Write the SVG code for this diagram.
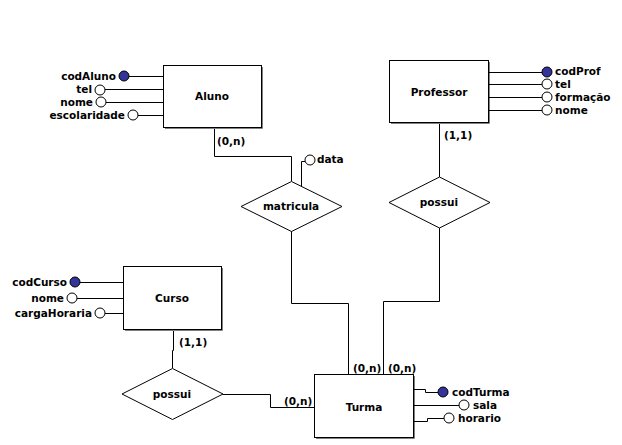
<svg xmlns="http://www.w3.org/2000/svg" width="622" height="445" viewBox="0 0 622 445">
<style>
text{font-family:"DejaVu Sans","Verdana",sans-serif;font-weight:bold;font-size:10.5px;fill:#000}
.c{text-anchor:middle}
.r{text-anchor:end}
.box{fill:#fff;stroke:#000;stroke-width:1}
.sh{fill:none;stroke:#808080;stroke-width:1}
.ln{fill:none;stroke:#000;stroke-width:1}
.dia{fill:#fff;stroke:#000;stroke-width:1}
.at{fill:#fff;stroke:#000;stroke-width:1}
.pk{fill:#333399;stroke:#000;stroke-width:1}
</style>
<rect width="622" height="445" fill="#fff"/>
<g id="connectors">
<polyline class="ln" points="214.5,127 214.5,156.5 291.5,156.5 291.5,181"/>
<polyline class="ln" points="301.5,186 301.5,161.5 305,161.5"/>
<polyline class="ln" points="291.5,231 291.5,303.5 348.5,303.5 348.5,374"/>
<polyline class="ln" points="439.5,122 439.5,177"/>
<polyline class="ln" points="439.5,228 439.5,301.5 383.5,301.5 383.5,374"/>
<polyline class="ln" points="173.5,329 173.5,350.5 172.5,350.5 172.5,368"/>
<polyline class="ln" points="223,394.5 270.5,394.5 270.5,407.5 314,407.5"/>
<text x="217" y="145">(0,n)</text>
<text x="444" y="139">(1,1)</text>
<text x="179" y="346">(1,1)</text>
<text x="284" y="405">(0,n)</text>
<text x="353" y="372">(0,n)</text>
<text x="388" y="372">(0,n)</text>
</g>
<g id="aluno">
<polyline class="sh" points="165,128.5 262.5,128.5 262.5,67"/>
<rect class="box" x="163.5" y="65.5" width="98" height="62"/>
<text class="c" x="212" y="100">Aluno</text>
<line class="ln" x1="129" y1="76.5" x2="163" y2="76.5"/>
<circle class="pk" cx="124" cy="76" r="5"/>
<text class="r" x="116" y="80">codAluno</text>
<line class="ln" x1="105" y1="89.5" x2="163" y2="89.5"/>
<circle class="at" cx="100" cy="90" r="5"/>
<text class="r" x="92" y="93">tel</text>
<line class="ln" x1="106" y1="102.5" x2="163" y2="102.5"/>
<circle class="at" cx="101" cy="102" r="5"/>
<text class="r" x="93" y="106">nome</text>
<line class="ln" x1="138" y1="115.5" x2="163" y2="115.5"/>
<circle class="at" cx="133" cy="115" r="5"/>
<text class="r" x="125" y="119">escolaridade</text>
</g>
<g id="professor">
<polyline class="sh" points="391,123.5 489.5,123.5 489.5,62"/>
<rect class="box" x="389.5" y="60.5" width="99" height="62"/>
<text class="c" x="439" y="96">Professor</text>
<line class="ln" x1="489" y1="72.5" x2="542" y2="72.5"/>
<circle class="pk" cx="547" cy="72" r="5"/>
<text x="555" y="75">codProf</text>
<line class="ln" x1="489" y1="84.5" x2="542" y2="84.5"/>
<circle class="at" cx="547" cy="84" r="5"/>
<text x="555" y="88">tel</text>
<line class="ln" x1="489" y1="97.5" x2="542" y2="97.5"/>
<circle class="at" cx="547" cy="97" r="5"/>
<text x="555" y="101">formação</text>
<line class="ln" x1="489" y1="110.5" x2="542" y2="110.5"/>
<circle class="at" cx="547" cy="110" r="5"/>
<text x="555" y="114">nome</text>
</g>
<g id="curso">
<polyline class="sh" points="125,330.5 222.5,330.5 222.5,268"/>
<rect class="box" x="123.5" y="266.5" width="98" height="63"/>
<text class="c" x="172" y="302">Curso</text>
<line class="ln" x1="80" y1="282.5" x2="123" y2="282.5"/>
<circle class="pk" cx="75" cy="282" r="5"/>
<text class="r" x="67" y="286">codCurso</text>
<line class="ln" x1="77" y1="298.5" x2="123" y2="298.5"/>
<circle class="at" cx="72" cy="298" r="5"/>
<text class="r" x="64" y="302">nome</text>
<line class="ln" x1="105" y1="313.5" x2="123" y2="313.5"/>
<circle class="at" cx="100" cy="313" r="5"/>
<text class="r" x="92" y="317">cargaHoraria</text>
</g>
<g id="turma">
<polyline class="sh" points="316,438.5 414.5,438.5 414.5,376"/>
<rect class="box" x="314.5" y="374.5" width="99" height="63"/>
<text class="c" x="364" y="411">Turma</text>
<polyline class="ln" points="414,389.5 425.5,389.5 425.5,392.5 438,392.5"/>
<circle class="pk" cx="443" cy="392" r="5"/>
<text x="452" y="396">codTurma</text>
<line class="ln" x1="414" y1="405.5" x2="459" y2="405.5"/>
<circle class="at" cx="464" cy="405" r="5"/>
<text x="473" y="409">sala</text>
<polyline class="ln" points="414,421.5 427.5,421.5 427.5,418.5 444,418.5"/>
<circle class="at" cx="449" cy="418" r="5"/>
<text x="458" y="422">horario</text>
</g>
<g id="matricula">
<polygon class="dia" points="291.5,181.5 342,206.5 291.5,231.5 241,206.5"/>
<text class="c" x="291" y="210">matricula</text>
<circle class="at" cx="310" cy="160" r="5"/>
<text x="317" y="163">data</text>
</g>
<g id="possui1">
<polygon class="dia" points="439.5,177 490,202.5 439.5,228 389,202.5"/>
<text class="c" x="439" y="206">possui</text>
</g>
<g id="possui2">
<polygon class="dia" points="172.5,368.5 223,394 172.5,419.5 122,394"/>
<text class="c" x="172" y="398">possui</text>
</g>
</svg>
